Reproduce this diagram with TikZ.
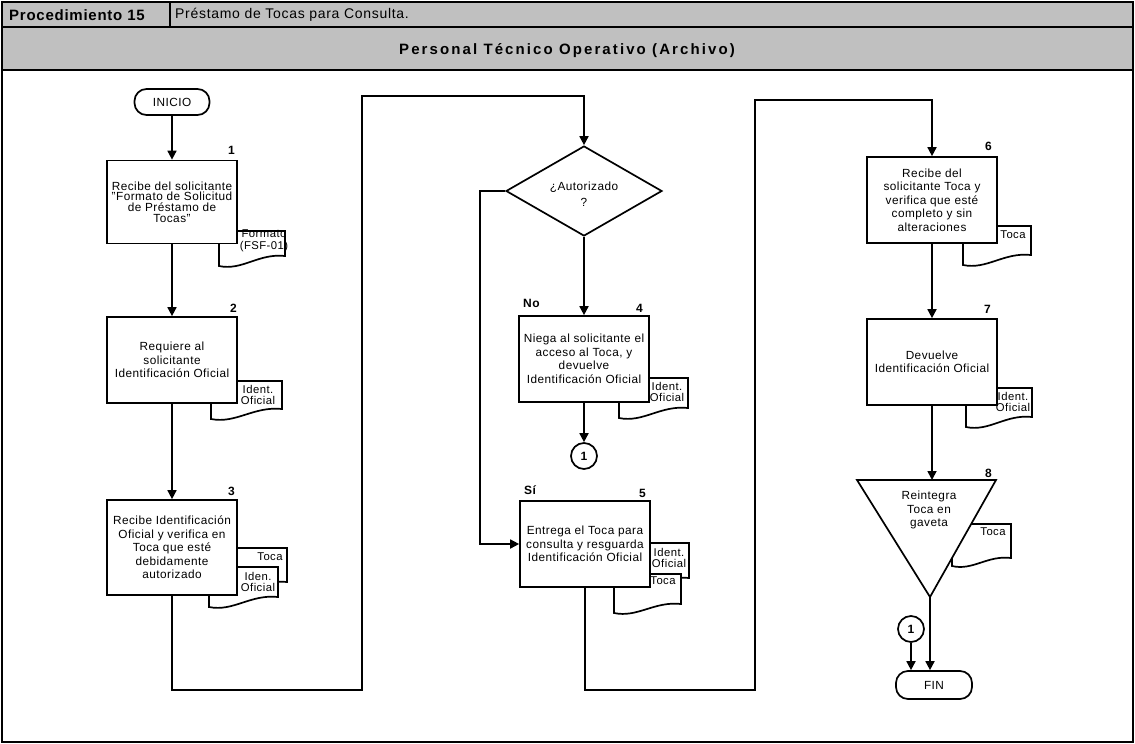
\documentclass[tikz,border=0pt]{standalone}
\usepackage{fontspec}
\setmainfont{Liberation Sans}[LetterSpace=4]
\newfontfamily\titlefont{Liberation Sans}[LetterSpace=5]
\newfontfamily\areafont{Liberation Sans}[LetterSpace=14]
\usetikzlibrary{arrows.meta,shapes.geometric}
\definecolor{hdrgray}{HTML}{C0C0C0}
\tikzset{
  base/.style={font=\fontsize{11.8}{13.5}\selectfont, inner sep=0pt},
  proc/.style={base, draw, fill=white, line width=1.7pt, minimum width=130pt, minimum height=86pt, align=center},
  term/.style={base, draw, fill=white, line width=1.7pt, rounded corners=12pt, minimum width=75pt, minimum height=26pt},
  decis/.style={diamond, draw, fill=white, line width=1.7pt, minimum width=156pt, minimum height=90pt, inner sep=0pt},
  conn/.style={base, circle, draw, fill=white, line width=1.7pt, minimum size=26pt, font=\fontsize{12}{13}\selectfont\bfseries},
  doc/.style={draw, fill=white, line width=1.7pt},
  doctext/.style={base, align=center, font=\fontsize{11.3}{11.5}\selectfont},
  num/.style={base, font=\fontsize{12}{13}\selectfont\bfseries, anchor=base east},
  tag/.style={base, font=\fontsize{12}{13}\selectfont\bfseries, anchor=base west},
  flow/.style={line width=1.7pt, -{Triangle[length=9pt,width=9pt]}},
}
% document symbol: left, top, right, right height, left height
\newcommand\docshape[5]{%
  \filldraw[doc] (#1,#2) -- (#3,#2) -- (#3,{#2+#4})
    .. controls ({#1+0.6*(#3-#1)},{#2+#4-3}) and ({#1+0.35*(#3-#1)},{#2+#5+5}) .. (#1,{#2+#5}) -- cycle;}

\begin{document}
\begin{tikzpicture}[x=1pt,y=-1pt]
\useasboundingbox (0,0) rectangle (1135,744);

% header
\fill[hdrgray] (2,2) rectangle (1133,70);
\draw[line width=1.4pt] (2,2) rectangle (1133,742);
\draw[line width=1.4pt] (2,27) -- (1133,27) (2,70) -- (1133,70) (170,2) -- (170,27);
\node[base, anchor=west, font=\titlefont\bfseries\fontsize{15}{16}\selectfont] (proc) at (9,15) {Procedimiento 15};
\node[base, anchor=west, font=\titlefont\fontsize{14}{16}\selectfont] (ptitle) at (175,15) {Préstamo de Tocas para Consulta.};
\node[base, font=\areafont\bfseries\fontsize{15}{16}\selectfont] (area) at (567,51) {Personal Técnico Operativo (Archivo)};

% document symbols behind the activities
\docshape{219}{231}{285}{25}{35}
\docshape{211}{381}{282}{28}{38}
\docshape{215}{548}{287}{34}{42}
\docshape{209}{567}{278}{30}{40}
\docshape{619}{378}{688}{30}{40}
\docshape{615}{543}{689}{35}{44}
\docshape{614}{574}{681}{30}{39}
\docshape{963}{226}{1031}{29}{39}
\docshape{966}{388}{1032}{29}{39}
\docshape{952}{524}{1011}{34}{42}

% terminals
\node[term] (ini) at (172,102) {INICIO};
\node[term, minimum width=76pt, minimum height=28pt] (fin) at (934,685) {FIN};

% activities
\node[proc, minimum height=83pt, font=\fontsize{11.8}{10.7}\selectfont] (b1) at (172,202)
  {Recibe del solicitante\\"Formato de Solicitud\\de Préstamo de\\Tocas"};
\node[proc] (b2) at (172,360) {Requiere al\\solicitante\\Identificación Oficial};
\node[proc, minimum height=95pt] (b3) at (172,547.5)
  {Recibe Identificación\\Oficial y verifica en\\Toca que esté\\debidamente\\autorizado};
\node[decis] (dec) at (584,191) {};
\node[base, align=center, font=\fontsize{11.8}{16}\selectfont] (dect) at (584,194) {¿Autorizado\\?};
\node[proc] (b4) at (584,359) {Niega al solicitante el\\acceso al Toca, y\\devuelve\\Identificación Oficial};
\node[proc] (b5) at (585,544) {Entrega el Toca para\\consulta y resguarda\\Identificación Oficial};
\node[proc] (b6) at (932,200) {Recibe del\\solicitante Toca y\\verifica que esté\\completo y sin\\alteraciones};
\node[proc] (b7) at (932,362) {Devuelve\\Identificación Oficial};

% storage triangle
\coordinate (t8l) at (857,480);
\coordinate (t8r) at (996,480);
\coordinate (t8bot) at (930,597);
\coordinate (t8top) at (932,480);
\filldraw[doc] (t8l) -- (t8r) -- (t8bot) -- cycle;
\node[base, align=center] (t8t) at (929,510) {Reintegra\\Toca en\\gaveta};

% document labels
\node[doctext] (d1t) at (264,241) {Formato\\(FSF-01)};
\node[doctext] (d2t) at (258,395) {Ident.\\Oficial};
\node[doctext] (d3at) at (270,557) {Toca};
\node[doctext] (d3bt) at (258,582) {Iden.\\Oficial};
\node[doctext] (d4t) at (667,392) {Ident.\\Oficial};
\node[doctext] (d5at) at (669,558) {Ident.\\Oficial};
\node[doctext] (d5bt) at (663,581) {Toca};
\node[doctext] (d6t) at (1013,235) {Toca};
\node[doctext] (d7t) at (1013,402) {Ident.\\Oficial};
\node[doctext] (d8t) at (993,532) {Toca};

% step numbers and branch tags
\node[num] (n1) at (235,154) {1};
\node[num] (n2) at (237,312) {2};
\node[num] (n3) at (235,495) {3};
\node[num] (n4) at (643,312) {4};
\node[num] (n5) at (646,497) {5};
\node[num] (n6) at (992,150) {6};
\node[num] (n7) at (991,313) {7};
\node[num] (n8) at (992,477) {8};
\node[tag] (tno) at (523,307) {No};
\node[tag] (tsi) at (524,494) {Sí};

% off-page connectors
\node[conn] (c1a) at (584,456) {1};
\node[conn] (c1b) at (911,629) {1};

% routing points
\coordinate (j1) at (362,690);
\coordinate (j2) at (362,96);
\coordinate (j3) at (480,191);
\coordinate (j4) at (755,690);
\coordinate (j5) at (755,100);

% flow lines
\draw[flow] (ini) -- (b1);
\draw[flow] (b1) -- (b2);
\draw[flow] (b2) -- (b3);
\draw[flow] (b3.south) |- (j1) -- (j2) -| (dec.north);
\draw[flow] (dec) -- (b4);
\draw[flow] (dec.west) -- (j3) |- (b5.west);
\draw[flow] (b4) -- (c1a);
\draw[flow] (b5.south) |- (j4) -- (j5) -| (b6.north);
\draw[flow] (b6) -- (b7);
\draw[flow] (b7.south) -- (t8top);
\draw[flow] (t8bot) -- (t8bot |- fin.north);
\draw[flow] (c1b) -- (c1b |- fin.north);
\end{tikzpicture}
\end{document}
